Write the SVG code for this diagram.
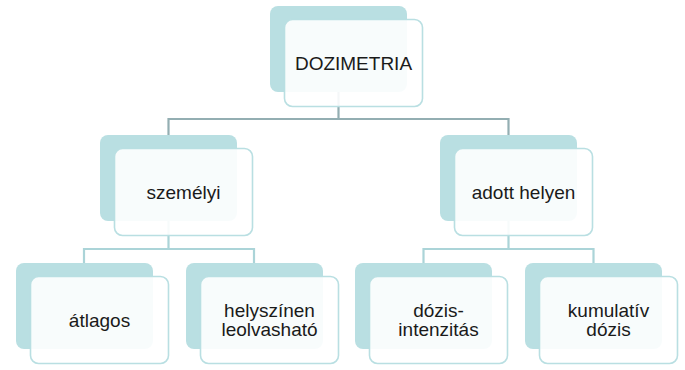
<svg xmlns="http://www.w3.org/2000/svg" width="685" height="370" viewBox="0 0 685 370">
<style>
.back{fill:#b9dfe2;}
.front{fill:#ffffff;fill-opacity:0.9;stroke:#b9dfe2;stroke-width:1.6;}
.c1{fill:none;stroke:#93aeb2;stroke-width:2.2;}
.c2{fill:none;stroke:#abd4d8;stroke-width:2.2;}
text{font-family:"Liberation Sans",Arial,sans-serif;font-size:19px;fill:#1a1a1a;text-anchor:middle;}
</style>
<rect width="685" height="370" fill="#ffffff"/>
<g id="connectors">
<path class="c1" d="M338.5 92 V119 M168.5 135 V119 H508.5 V135"/>
<path class="c2" d="M168.5 220 V249 M84 263 V249 H254 V263"/>
<path class="c2" d="M508.5 220 V249 M423.5 263 V249 H593.5 V263"/>
</g>
<g id="n-dozimetria">
<rect class="back" x="270" y="6" width="137" height="86" rx="8"/>
<rect class="front" x="284.5" y="19.5" width="138" height="87" rx="8"/>
<text x="353.5" y="69.6">DOZIMETRIA</text>
</g>
<g id="n-szemelyi">
<rect class="back" x="100" y="135" width="137" height="86" rx="8"/>
<rect class="front" x="114.5" y="148.5" width="138" height="87" rx="8"/>
<text x="183.5" y="198.6">személyi</text>
</g>
<g id="n-adott">
<rect class="back" x="440" y="135" width="137" height="86" rx="8"/>
<rect class="front" x="454.5" y="148.5" width="138" height="87" rx="8"/>
<text x="523.5" y="198.6">adott helyen</text>
</g>
<g id="n-atlagos">
<rect class="back" x="16" y="263" width="137" height="86" rx="8"/>
<rect class="front" x="30.5" y="276.5" width="138" height="87" rx="8"/>
<text x="99.5" y="326.6">átlagos</text>
</g>
<g id="n-helyszinen">
<rect class="back" x="186" y="263" width="137" height="86" rx="8"/>
<rect class="front" x="200.5" y="276.5" width="138" height="87" rx="8"/>
<text x="269.5" y="316.8">helyszínen</text>
<text x="269.5" y="336.4">leolvasható</text>
</g>
<g id="n-dozisint">
<rect class="back" x="355" y="263" width="137" height="86" rx="8"/>
<rect class="front" x="369.5" y="276.5" width="138" height="87" rx="8"/>
<text x="438.5" y="316.8">dózis-</text>
<text x="438.5" y="336.4">intenzitás</text>
</g>
<g id="n-kumulativ">
<rect class="back" x="525" y="263" width="137" height="86" rx="8"/>
<rect class="front" x="539.5" y="276.5" width="138" height="87" rx="8"/>
<text x="608.5" y="316.8">kumulatív</text>
<text x="608.5" y="336.4">dózis</text>
</g>
</svg>
